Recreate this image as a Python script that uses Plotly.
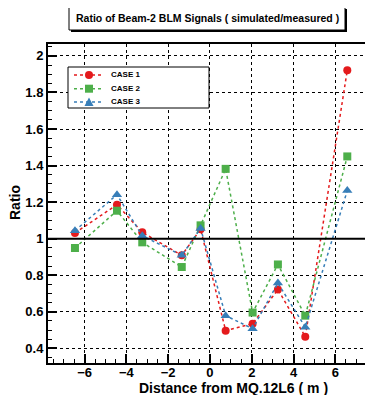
import plotly.graph_objects as go

# ---- data ----
distance = [-6.46, -4.45, -3.24, -1.35, -0.45, 0.75, 2.04, 3.25, 4.56, 6.57]
case1 = [1.031, 1.186, 1.035, 0.909, 1.052, 0.497, 0.535, 0.722, 0.464, 1.922]
case2 = [0.949, 1.153, 0.980, 0.845, 1.073, 1.382, 0.596, 0.859, 0.579, 1.450]
case3 = [1.044, 1.241, 1.016, 0.909, 1.056, 0.579, 0.508, 0.757, 0.516, 1.263]
series_names = ["CASE 1", "CASE 2", "CASE 3"]
colors = ["#e41a1c", "#4daf4a", "#377eb8"]
symbols = ["circle", "square", "triangle-up"]
sizes = [8, 8, 9]
title_text = "Ratio of Beam-2 BLM Signals ( simulated/measured )"
x_title = "Distance from MQ.12L6 ( m )"
y_title = "Ratio"

OFF = 8  # page body margin
W, H = 373 - OFF, 395 - OFF
L, R, T, B = 48, 373, 44, 363  # plot area in reference pixels

def px(x):
    return (x - L) / (R - L)

def py(y):
    return (B - y) / (B - T)

fig = go.Figure()
for name, vals, col, sym, sz in zip(series_names, [case1, case2, case3], colors, symbols, sizes):
    fig.add_trace(go.Scatter(
        x=distance, y=vals, name=name, mode="lines+markers",
        line=dict(color=col, width=1.5, dash="dot"),
        marker=dict(color=col, symbol=sym, size=sz, line=dict(width=0)),
        showlegend=False,
    ))

# reference line at ratio = 1
fig.add_shape(type="line", xref="paper", yref="y", x0=0, x1=1, y0=1, y1=1,
              line=dict(color="black", width=2), layer="above")

# title box with shadow
fig.add_shape(type="rect", xref="paper", yref="paper",
              x0=px(71), x1=px(347), y0=py(32), y1=py(9),
              line=dict(width=0), fillcolor="black")
fig.add_shape(type="rect", xref="paper", yref="paper",
              x0=px(69), x1=px(345), y0=py(30), y1=py(7),
              line=dict(color="black", width=1), fillcolor="white")
fig.add_annotation(text="<b>" + title_text + "</b>", xref="paper", yref="paper",
                   x=px(207), y=py(18.5), xanchor="center", yanchor="middle",
                   showarrow=False,
                   font=dict(size=10.5, color="black", family="Liberation Sans"))

# axis titles
fig.add_annotation(text="<b>" + x_title + "</b>", xref="paper", yref="paper",
                   x=px(233), y=py(388), xanchor="center", yanchor="middle",
                   showarrow=False,
                   font=dict(size=14, color="black", family="Liberation Sans"))
fig.add_annotation(text="<b>" + y_title + "</b>", xref="paper", yref="paper",
                   x=px(15), y=py(203), xanchor="center", yanchor="middle",
                   showarrow=False, textangle=-90,
                   font=dict(size=14, color="black", family="Liberation Sans"))

# manual legend (ROOT-style compact box)
fig.add_shape(type="rect", xref="paper", yref="paper",
              x0=px(68), x1=px(209), y0=py(108), y1=py(67),
              line=dict(color="black", width=1), fillcolor="white", layer="above")
leg_y = [75, 88.7, 102]
for name, col, sym, yy in zip(series_names, colors, symbols, leg_y):
    fig.add_shape(type="line", xref="paper", yref="paper",
                  x0=px(74), x1=px(103), y0=py(yy), y1=py(yy),
                  line=dict(color=col, width=1.5, dash="dot"), layer="above")
    if sym == "circle":
        fig.add_shape(type="circle", xref="paper", yref="paper",
                      x0=px(85), x1=px(93), y0=py(yy + 4), y1=py(yy - 4),
                      line=dict(width=0), fillcolor=col, layer="above")
    elif sym == "square":
        fig.add_shape(type="rect", xref="paper", yref="paper",
                      x0=px(85), x1=px(93), y0=py(yy + 4), y1=py(yy - 4),
                      line=dict(width=0), fillcolor=col, layer="above")
    else:
        fig.add_shape(type="path", xref="paper", yref="paper",
                      path="M {a},{b} L {c},{b} L {d},{e} Z".format(
                          a=px(84.5), c=px(93.5), b=py(yy + 4), d=px(89), e=py(yy - 4.5)),
                      line=dict(width=0), fillcolor=col, layer="above")
    fig.add_annotation(text="<b>" + name + "</b>", xref="paper", yref="paper",
                       x=px(109), y=py(yy), xanchor="left", yanchor="middle",
                       showarrow=False,
                       font=dict(size=8, color="black", family="Liberation Sans"))

axis_common = dict(
    showline=True, linecolor="black", linewidth=2,
    showgrid=True, gridcolor="black", gridwidth=1, griddash="dot",
    ticks="inside", ticklen=9, tickwidth=1.5, tickcolor="black",
    zeroline=False,
    tickfont=dict(size=13, color="black", family="Liberation Sans", weight="bold"),
)

fig.update_xaxes(range=[-7.75, 7.8], dtick=2, tick0=0, ticklabelstandoff=-4,
                 mirror=True,
                 minor=dict(dtick=0.5, tick0=0, ticks="inside", ticklen=4,
                            tickcolor="black", tickwidth=1, showgrid=False),
                 **axis_common)
fig.update_yaxes(range=[0.32, 2.065], dtick=0.2, tick0=0, mirror=False,
                 minor=dict(dtick=0.05, tick0=0, ticks="inside", ticklen=4,
                            tickcolor="black", tickwidth=1, showgrid=False),
                 **axis_common)

fig.update_layout(
    width=W, height=H,
    margin=dict(l=L - OFF, r=(373 - R), t=T - OFF, b=(395 - OFF) - (B - OFF), pad=0),
    paper_bgcolor="white", plot_bgcolor="white",
    showlegend=False,
)

fig.write_html("out.html")
